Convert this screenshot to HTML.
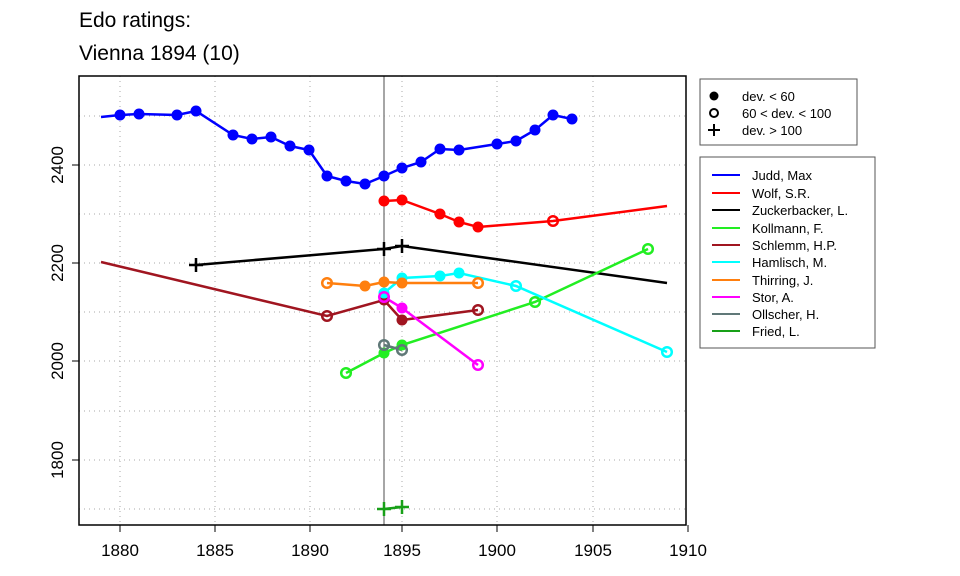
<!DOCTYPE html>
<html><head><style>body{margin:0;background:#fff}svg{display:block}text{font-family:"Liberation Sans",sans-serif}</style></head><body>
<svg width="960" height="576" xmlns="http://www.w3.org/2000/svg">
<rect width="960" height="576" fill="#fff"/>
<text x="79" y="27" font-size="21">Edo ratings:</text>
<text x="79" y="60" font-size="21">Vienna 1894 (10)</text>
<g stroke="#aaa" stroke-dasharray="1,4" stroke-width="1">
<line x1="120" y1="76" x2="120" y2="525"/><line x1="215" y1="76" x2="215" y2="525"/><line x1="310" y1="76" x2="310" y2="525"/><line x1="402" y1="76" x2="402" y2="525"/><line x1="497" y1="76" x2="497" y2="525"/><line x1="593" y1="76" x2="593" y2="525"/>
<line x1="79" y1="116" x2="686" y2="116"/><line x1="79" y1="165" x2="686" y2="165"/><line x1="79" y1="214" x2="686" y2="214"/><line x1="79" y1="263" x2="686" y2="263"/><line x1="79" y1="312" x2="686" y2="312"/><line x1="79" y1="361" x2="686" y2="361"/><line x1="79" y1="411" x2="686" y2="411"/><line x1="79" y1="460" x2="686" y2="460"/><line x1="79" y1="509" x2="686" y2="509"/>
</g>
<line x1="384" y1="76" x2="384" y2="525" stroke="#888" stroke-width="1.5"/>
<g fill="none" stroke-width="2.5">
<polyline stroke="#0000ff" points="101,117 120,115 139,114 177,115 196,111 233,135 252,139 271,137 290,146 309,150 327,176 346,181 365,184 384,176 402,168 421,162 440,149 459,150 497,144 516,141 535,130 553,115 572,119"/>
<polyline stroke="#ff0000" points="384,201 402,200 440,214 459,222 478,227 553,221 667,206"/>
<polyline stroke="#000" points="196,265 384,249 402,246 667,283"/>
<polyline stroke="#22ee22" points="346,373 384,353 402,345 535,302 648,249"/>
<polyline stroke="#a01520" points="101,262 327,316 384,300 402,320 478,310"/>
<polyline stroke="#00ffff" points="384,293 402,278 440,276 459,273 516,286 667,352"/>
<polyline stroke="#ff7f0e" points="327,283 365,286 384,282 402,283 478,283"/>
<polyline stroke="#ff00ff" points="384,297 402,308 478,365"/>
<polyline stroke="#607878" points="384,345 402,350"/>
<polyline stroke="#18a018" points="384,509 402,507"/>
</g>
<g fill="#0000ff"><circle cx="120" cy="115" r="5.5"/><circle cx="139" cy="114" r="5.5"/><circle cx="177" cy="115" r="5.5"/><circle cx="196" cy="111" r="5.5"/><circle cx="233" cy="135" r="5.5"/><circle cx="252" cy="139" r="5.5"/><circle cx="271" cy="137" r="5.5"/><circle cx="290" cy="146" r="5.5"/><circle cx="309" cy="150" r="5.5"/><circle cx="327" cy="176" r="5.5"/><circle cx="346" cy="181" r="5.5"/><circle cx="365" cy="184" r="5.5"/><circle cx="384" cy="176" r="5.5"/><circle cx="402" cy="168" r="5.5"/><circle cx="421" cy="162" r="5.5"/><circle cx="440" cy="149" r="5.5"/><circle cx="459" cy="150" r="5.5"/><circle cx="497" cy="144" r="5.5"/><circle cx="516" cy="141" r="5.5"/><circle cx="535" cy="130" r="5.5"/><circle cx="553" cy="115" r="5.5"/><circle cx="572" cy="119" r="5.5"/></g>
<g fill="#ff0000"><circle cx="384" cy="201" r="5.5"/><circle cx="402" cy="200" r="5.5"/><circle cx="440" cy="214" r="5.5"/><circle cx="459" cy="222" r="5.5"/><circle cx="478" cy="227" r="5.5"/></g>
<circle cx="553" cy="221" r="4.8" fill="none" stroke="#ff0000" stroke-width="2.5"/>
<g stroke="#000" stroke-width="2.5"><path d="M189,265h14M196,258v14M377,249h14M384,242v14M395,246h14M402,239v14"/></g>
<g fill="#22ee22"><circle cx="384" cy="353" r="5.5"/><circle cx="402" cy="345" r="5.5"/></g>
<g fill="none" stroke="#22ee22" stroke-width="2.5"><circle cx="346" cy="373" r="4.8"/><circle cx="535" cy="302" r="4.8"/><circle cx="648" cy="249" r="4.8"/></g>
<g fill="#a01520"><circle cx="384" cy="300" r="5.5"/><circle cx="402" cy="320" r="5.5"/></g>
<g fill="none" stroke="#a01520" stroke-width="2.5"><circle cx="327" cy="316" r="4.8"/><circle cx="478" cy="310" r="4.8"/></g>
<g fill="#00ffff"><circle cx="384" cy="293" r="5.5"/><circle cx="402" cy="278" r="5.5"/><circle cx="440" cy="276" r="5.5"/><circle cx="459" cy="273" r="5.5"/></g>
<g fill="none" stroke="#00ffff" stroke-width="2.5"><circle cx="516" cy="286" r="4.8"/><circle cx="667" cy="352" r="4.8"/></g>
<g fill="#ff7f0e"><circle cx="365" cy="286" r="5.5"/><circle cx="384" cy="282" r="5.5"/><circle cx="402" cy="283" r="5.5"/></g>
<g fill="none" stroke="#ff7f0e" stroke-width="2.5"><circle cx="327" cy="283" r="4.8"/><circle cx="478" cy="283" r="4.8"/></g>
<circle cx="402" cy="308" r="5.5" fill="#ff00ff"/>
<g fill="none" stroke="#ff00ff" stroke-width="2.5"><circle cx="384" cy="297" r="4.8"/><circle cx="478" cy="365" r="4.8"/></g>
<g fill="none" stroke="#607878" stroke-width="2.5"><circle cx="384" cy="345" r="4.8"/><circle cx="402" cy="350" r="4.8"/></g>
<g stroke="#18a018" stroke-width="2.5"><path d="M377,509h14M384,502v14M395,507h14M402,500v14"/></g>
<rect x="79" y="76" width="607" height="449" fill="none" stroke="#000" stroke-width="1.5"/>
<g stroke="#000" stroke-width="1"><path d="M120,525v7M215,525v7M310,525v7M402,525v7M497,525v7M593,525v7M688,525v7M79,165h-7M79,263h-7M79,361h-7M79,460h-7"/></g>
<g font-size="17" text-anchor="middle"><text x="120" y="556">1880</text><text x="215" y="556">1885</text><text x="310" y="556">1890</text><text x="402" y="556">1895</text><text x="497" y="556">1900</text><text x="593" y="556">1905</text><text x="688" y="556">1910</text>
<text transform="translate(63,165) rotate(-90)">2400</text><text transform="translate(63,263) rotate(-90)">2200</text><text transform="translate(63,361) rotate(-90)">2000</text><text transform="translate(63,460) rotate(-90)">1800</text></g>
<rect x="700" y="79" width="157" height="66" fill="#fff" stroke="#555"/>
<circle cx="714" cy="96" r="4.5" fill="#000"/><circle cx="714" cy="113" r="4" fill="none" stroke="#000" stroke-width="2"/><path d="M708,130h12M714,124v12" stroke="#000" stroke-width="2"/>
<g font-size="13"><text x="742" y="101">dev. &lt; 60</text><text x="742" y="118">60 &lt; dev. &lt; 100</text><text x="742" y="135">dev. &gt; 100</text></g>
<rect x="700" y="157" width="175" height="191" fill="#fff" stroke="#555"/>
<g stroke-width="2"><path d="M712,175h28" stroke="#0000ff"/><path d="M712,193h28" stroke="#ff0000"/><path d="M712,210h28" stroke="#000"/><path d="M712,228h28" stroke="#22ee22"/><path d="M712,245h28" stroke="#a01520"/><path d="M712,262h28" stroke="#00ffff"/><path d="M712,280h28" stroke="#ff7f0e"/><path d="M712,297h28" stroke="#ff00ff"/><path d="M712,314h28" stroke="#607878"/><path d="M712,331h28" stroke="#18a018"/></g>
<g font-size="13"><text x="752" y="180">Judd, Max</text><text x="752" y="198">Wolf, S.R.</text><text x="752" y="215">Zuckerbacker, L.</text><text x="752" y="233">Kollmann, F.</text><text x="752" y="250">Schlemm, H.P.</text><text x="752" y="267">Hamlisch, M.</text><text x="752" y="285">Thirring, J.</text><text x="752" y="302">Stor, A.</text><text x="752" y="319">Ollscher, H.</text><text x="752" y="336">Fried, L.</text></g>
</svg>
</body></html>
